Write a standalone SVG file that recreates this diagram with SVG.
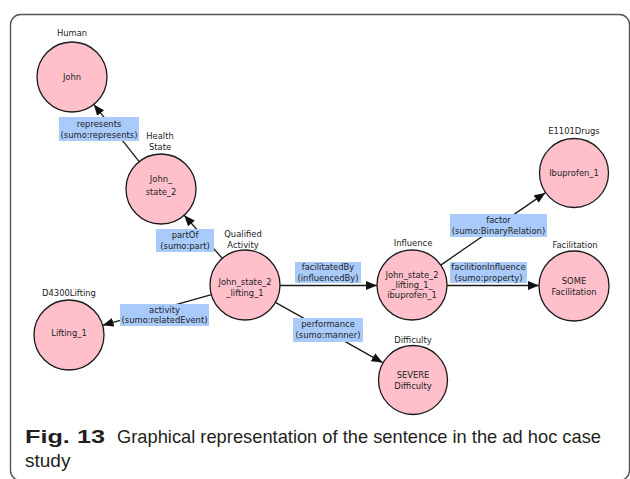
<svg xmlns="http://www.w3.org/2000/svg" width="630" height="479" viewBox="0 0 630 479">
  <defs>
    <marker id="arrow" viewBox="0 0 11 9" refX="11" refY="4.5" markerWidth="11" markerHeight="9" markerUnits="userSpaceOnUse" orient="auto">
      <path d="M0,0 L11,4.5 L0,9 z" fill="#111"/>
    </marker>
    <style>
      .frame { fill: #fff; stroke: #555; stroke-width: 1.4; }
      .node circle { fill: #ffc0cb; stroke: #1a1a1a; stroke-width: 1.3; }
      .node text, .lbl text { font-family: "DejaVu Sans", sans-serif; font-size: 8.4px; fill: #222; text-anchor: middle; }
      .edge { stroke: #1a1a1a; stroke-width: 1.3; fill: none; marker-end: url(#arrow); }
      .lbl rect { fill: #a9cbfb; }
      .cap { font-family: "Liberation Sans", "Open Sans", sans-serif; font-size: 19px; fill: #231f20; }
    </style>
  </defs>

  <rect class="frame" x="10.5" y="14.5" width="619" height="466" rx="10"/>

  <!-- relations -->
  <g id="connectors">
    <line class="edge" x1="139.2" y1="161.6" x2="93.8" y2="104.4"/>
    <line class="edge" x1="221.8" y1="257.8" x2="184.2" y2="215.2"/>
    <line class="edge" x1="211.4" y1="294.7" x2="102.6" y2="325.3"/>
    <line class="edge" x1="280" y1="285.5" x2="377" y2="285.5"/>
    <line class="edge" x1="440.8" y1="265.1" x2="545.2" y2="192.9"/>
    <line class="edge" x1="447" y1="285.5" x2="539" y2="285.5"/>
    <line class="edge" x1="275.4" y1="302.4" x2="382.6" y2="362.6"/>

    <g class="lbl" id="lbl-represents">
      <rect x="59" y="117" width="80" height="24"/>
      <text x="99" y="126.5">represents</text>
      <text x="99" y="138">(sumo:represents)</text>
    </g>
    <g class="lbl" id="lbl-partOf">
      <rect x="156" y="229" width="58" height="23"/>
      <text x="185" y="237.5">partOf</text>
      <text x="185" y="248.5">(sumo:part)</text>
    </g>
    <g class="lbl" id="lbl-activity">
      <rect x="120" y="304" width="89" height="22"/>
      <text x="164.5" y="312.5">activity</text>
      <text x="164.5" y="323">(sumo:relatedEvent)</text>
    </g>
    <g class="lbl" id="lbl-facilitatedBy">
      <rect x="295" y="262" width="66" height="21"/>
      <text x="328" y="270">facilitatedBy</text>
      <text x="328" y="280.5">(influencedBy)</text>
    </g>
    <g class="lbl" id="lbl-factor">
      <rect x="450" y="214" width="97" height="23"/>
      <text x="498.5" y="222.5">factor</text>
      <text x="498.5" y="233.5">(sumo:BinaryRelation)</text>
    </g>
    <g class="lbl" id="lbl-facilitionInfluence">
      <rect x="450" y="262" width="77" height="21"/>
      <text x="488.5" y="270">facilitionInfluence</text>
      <text x="488.5" y="280.5">(sumo:property)</text>
    </g>
    <g class="lbl" id="lbl-performance">
      <rect x="293" y="318" width="70" height="24"/>
      <text x="328" y="327">performance</text>
      <text x="328" y="338">(sumo:manner)</text>
    </g>
  </g>

  <!-- instances with their class above -->
  <g class="node" id="john">
    <text x="72" y="36">Human</text>
    <circle cx="72" cy="77" r="35"/>
    <text x="72" y="80">John</text>
  </g>
  <g class="node" id="john-state-2">
    <text x="160" y="139">Health</text>
    <text x="160" y="150">State</text>
    <circle cx="161" cy="189" r="35"/>
    <text x="161" y="182">John_</text>
    <text x="161" y="194.5">state_2</text>
  </g>
  <g class="node" id="john-state-2-lifting-1">
    <text x="243" y="237">Qualified</text>
    <text x="243" y="247.5">Activity</text>
    <circle cx="245" cy="285" r="35"/>
    <text x="245" y="285">John_state_2</text>
    <text x="245" y="295.5">_lifting_1</text>
  </g>
  <g class="node" id="lifting-1">
    <text x="69" y="296">D4300Lifting</text>
    <circle cx="69" cy="335" r="35"/>
    <text x="69" y="336">Lifting_1</text>
  </g>
  <g class="node" id="influence">
    <text x="413" y="246">Influence</text>
    <circle cx="412" cy="285" r="35"/>
    <text x="412" y="278">John_state_2</text>
    <text x="412" y="287.5">_lifting_1_</text>
    <text x="412" y="297.5">ibuprofen_1</text>
  </g>
  <g class="node" id="ibuprofen-1">
    <text x="574" y="134">E1101Drugs</text>
    <circle cx="574" cy="173" r="34.5"/>
    <text x="574" y="176">Ibuprofen_1</text>
  </g>
  <g class="node" id="some-facilitation">
    <text x="575" y="248">Facilitation</text>
    <circle cx="574" cy="286" r="35"/>
    <text x="574" y="284">SOME</text>
    <text x="574" y="294.5">Facilitation</text>
  </g>
  <g class="node" id="severe-difficulty">
    <text x="413" y="343">Difficulty</text>
    <circle cx="413" cy="380" r="34.5"/>
    <text x="413" y="378">SEVERE</text>
    <text x="413" y="389">Difficulty</text>
  </g>

  <!-- caption -->
  <text class="cap" x="25" y="443" font-size="21" font-weight="bold" textLength="80" lengthAdjust="spacingAndGlyphs">Fig. 13</text>
  <text class="cap" x="117" y="443" textLength="484" lengthAdjust="spacingAndGlyphs">Graphical representation of the sentence in the ad hoc case</text>
  <text class="cap" x="25" y="467">study</text>
</svg>
